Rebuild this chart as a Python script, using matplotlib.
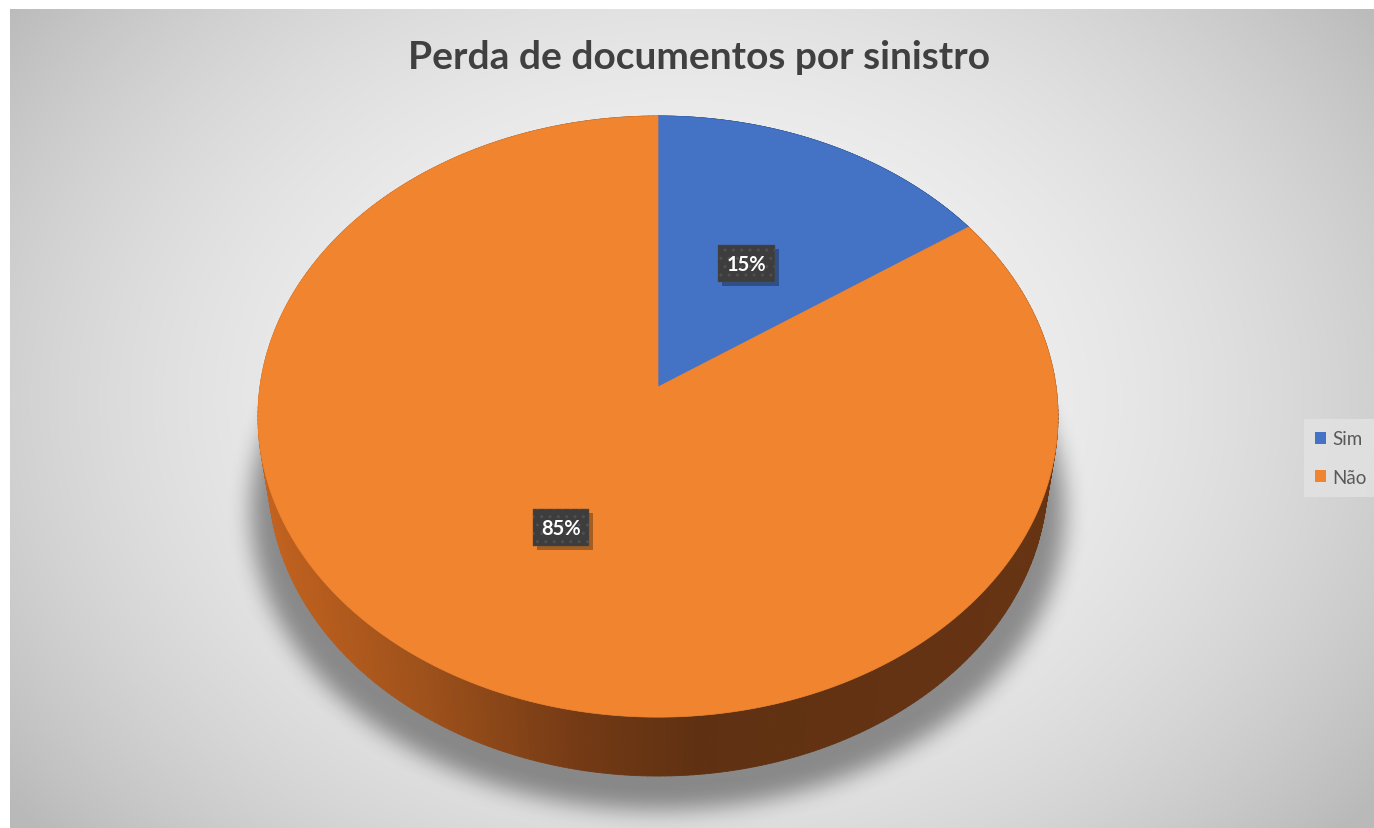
import numpy as np
import matplotlib
matplotlib.use('Agg')
import matplotlib.pyplot as plt
from matplotlib.patches import Polygon, Patch, Rectangle
from matplotlib.collections import PolyCollection
from matplotlib.path import Path
from matplotlib.colors import to_rgb

plt.rcParams['font.family'] = ['Lato', 'DejaVu Sans']

# dados
title = 'Perda de documentos por sinistro'
categories = ['Sim', 'Não']
values = [15.4, 84.6]
colors = ['#4472C4', '#F0842F']

W, H = 1374, 829
fig = plt.figure(figsize=(W / 100, H / 100), dpi=100, facecolor='white')
ax = fig.add_axes([0, 0, 1, 1])
ax.set_xlim(0, W)
ax.set_ylim(H, 0)
ax.axis('off')

# fundo com gradiente radial
x0, y0 = 10, 10
yy, xx = np.mgrid[y0:H, x0:W] + 0.5
rr = np.sqrt(((xx - 690) / 720) ** 2 + ((yy - 400) / 560) ** 2)
g = np.clip(244 - 40 * rr ** 2.2, 185, 246) / 255
ax.imshow(np.dstack([g, g, g]), extent=(x0, W, H, y0), zorder=0, interpolation='bilinear')

# projeção em perspectiva da pizza 3D
cx, cy = 658, 388
tilt = np.radians(48.4)
dist = 6.75
focal = 2687
thick = 0.24


def project(t, h=0.0, r=1.0):
    x = r * np.cos(t)
    z = r * np.sin(t)
    Y = z * np.sin(tilt) - h * np.cos(tilt)
    Z = dist + z * np.cos(tilt) + h * np.sin(tilt)
    return cx + focal * x / Z, cy - focal * Y / Z


fracs = np.array(values) / sum(values)
edges = np.radians(90 - 360 * np.concatenate([[0], np.cumsum(fracs)]))

# sombra
tt = np.linspace(0, 2 * np.pi, 400)
sx, sy = project(tt, thick)
sx = cx + (sx - cx) * 1.045
sy = sy + 34
mask = Path(np.column_stack([sx, sy])).contains_points(
    np.column_stack([xx.ravel(), yy.ravel()])).reshape(xx.shape).astype(float)


def blur1d(a, k, axis):
    pad = [(0, 0), (0, 0)]
    pad[axis] = (k, k)
    p = np.pad(a, pad, mode='edge')
    c = np.cumsum(p, axis=axis)
    c = np.insert(c, 0, 0, axis=axis)
    n = a.shape[axis]
    if axis == 0:
        return (c[2 * k + 1:2 * k + 1 + n] - c[:n]) / (2 * k + 1)
    return (c[:, 2 * k + 1:2 * k + 1 + n] - c[:, :n]) / (2 * k + 1)


for _ in range(3):
    mask = blur1d(mask, 10, 0)
    mask = blur1d(mask, 10, 1)
shadow = np.zeros(mask.shape + (4,))
shadow[..., 3] = mask * 0.4
ax.imshow(shadow, extent=(x0, W, H, y0), zorder=1)

# lateral
side_stops = [(0.0, '#c4631f'), (0.2, '#a0521b'), (0.4, '#743a15'),
              (0.55, '#5f3112'), (1.0, '#673413')]


def side_color(i, px):
    u = np.clip((px - 258) / 800, 0, 1)
    us = [s[0] for s in side_stops]
    rgbs = np.array([to_rgb(s[1]) for s in side_stops])
    c = np.array([np.interp(u, us, rgbs[:, k]) for k in range(3)])
    if i == 0:
        c = c[[2, 1, 0]] * 0.9
    return c


quads, qcols, depth = [], [], []
for i in range(len(values)):
    ts = np.linspace(edges[i], edges[i + 1], 400)
    for a, b in zip(ts[:-1], ts[1:]):
        ax_, ay_ = project(a)
        bx_, by_ = project(b)
        cx2, cy2 = project(b, thick)
        dx2, dy2 = project(a, thick)
        quads.append([(ax_, ay_), (bx_, by_), (cx2, cy2), (dx2, dy2)])
        qcols.append(side_color(i, (ax_ + bx_) / 2))
        depth.append(np.sin((a + b) / 2))
order = np.argsort(depth)[::-1]
pc = PolyCollection([quads[k] for k in order], facecolors=[qcols[k] for k in order],
                    edgecolors=[qcols[k] for k in order], linewidths=0.6, zorder=2)
ax.add_collection(pc)

# topo
for i in range(len(values)):
    ts = np.linspace(edges[i], edges[i + 1], 300)
    px, py = project(ts)
    pts = np.vstack([[cx, cy], np.column_stack([px, py])])
    ax.add_patch(Polygon(pts, closed=True, facecolor=colors[i], edgecolor=colors[i],
                         linewidth=0.5, zorder=3))

# rótulos
labels = []
for i in range(len(values)):
    mid = (edges[i] + edges[i + 1]) / 2
    lx, ly = project(mid, r=0.5)
    lbl = f'{fracs[i] * 100:.0f}%'
    t = ax.text(lx, ly + 3, lbl, ha='center', va='center', fontsize=14.5, fontweight='bold',
                color='white', zorder=5,
                bbox=dict(boxstyle='square,pad=0.42', fc='#3d3d3d', ec='#505050', lw=0.3, hatch='..'))
    labels.append(t)

ax.text(699, 69, title, ha='center', va='baseline', fontsize=28, fontweight='bold',
        color='#404040', zorder=5)

handles = [Patch(facecolor=c, edgecolor='none') for c in colors]
leg = ax.legend(handles, categories, loc='center left', bbox_to_anchor=(1304 / W, 1 - 459 / H),
                borderaxespad=0, frameon=True, fancybox=False, fontsize=13.5,
                handlelength=0.6, handleheight=0.6, handletextpad=0.3, labelspacing=1.13,
                borderpad=0.6, labelcolor='#595959')
leg.get_frame().set_facecolor('#e3e3e3')
leg.get_frame().set_edgecolor('none')
leg.set_zorder(6)

# sombra dos rótulos
fig.canvas.draw()
inv = ax.transData.inverted()
for t in labels:
    ext = t.get_bbox_patch().get_window_extent()
    (ax0, ay0), (ax1, ay1) = inv.transform([[ext.x0, ext.y0], [ext.x1, ext.y1]])
    ax.add_patch(Rectangle((min(ax0, ax1) + 4, min(ay0, ay1) + 4), abs(ax1 - ax0), abs(ay1 - ay0),
                           facecolor='black', alpha=0.3, edgecolor='none', zorder=4))

fig.savefig('out.png', dpi=100)
